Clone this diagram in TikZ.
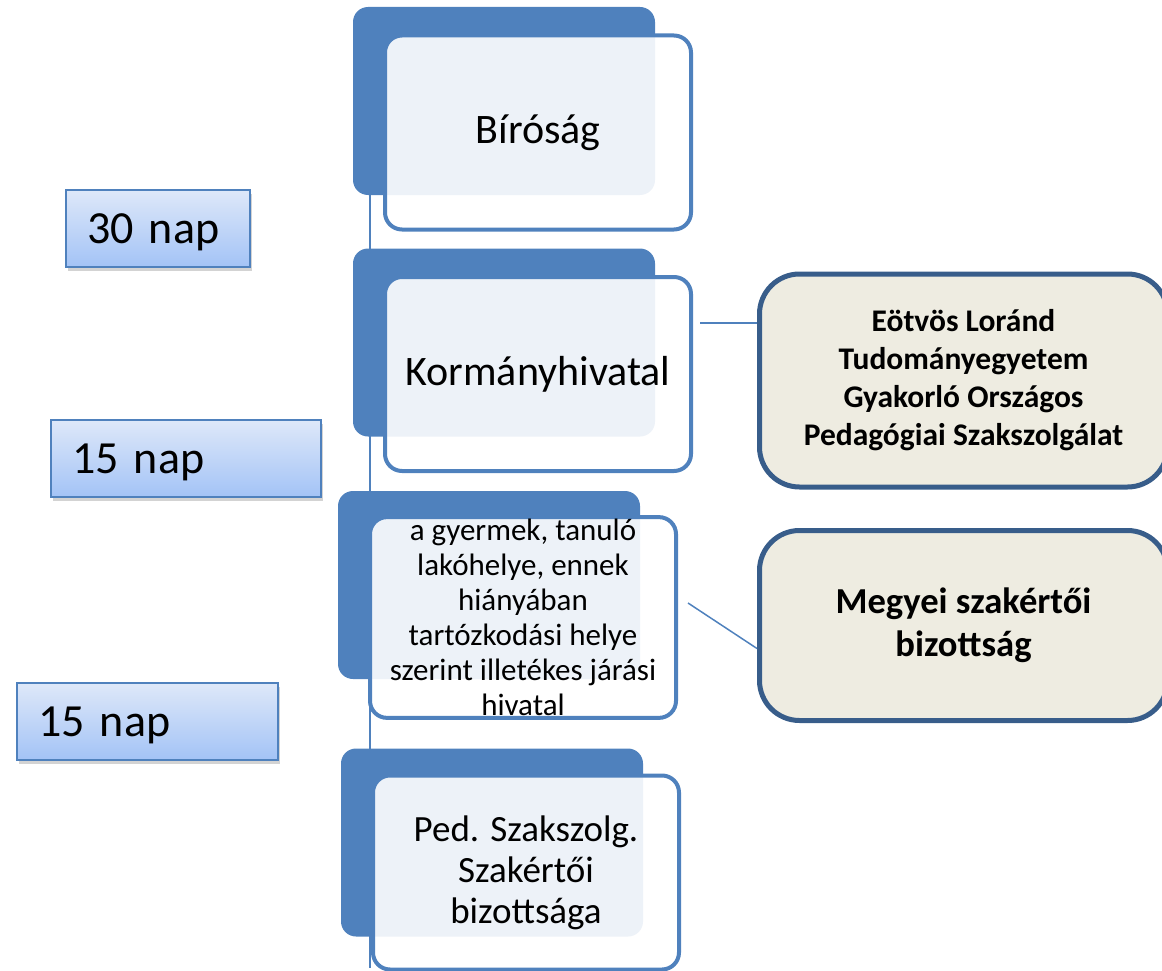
\documentclass[tikz,border=0pt]{standalone}
\usepackage{fontspec}
\setmainfont{Carlito}
\usetikzlibrary{shadows}
\definecolor{accent}{HTML}{4F81BD}
\definecolor{accentdark}{HTML}{385D8A}
\definecolor{paper}{HTML}{EEECE1}
\definecolor{periodtop}{HTML}{DEE8F9}
\definecolor{periodbot}{HTML}{A3C3F6}

\begin{document}
\begin{tikzpicture}[x=1pt, y=-1pt,
            back/.style={rectangle, rounded corners=15pt, fill=accent, minimum width=302pt, minimum height=188pt, inner sep=0pt},
            front/.style={rectangle, rounded corners=17pt, draw=accent, line width=4pt, fill=white, fill opacity=0.9, text opacity=1, minimum width=306pt, minimum height=194pt, inner sep=2pt, align=center, font=\fontsize{42}{50}\selectfont},
            office/.style={rectangle, rounded corners=40pt, draw=accentdark, line width=5pt, fill=paper, minimum width=408pt, align=center},
            period/.style={rectangle, draw=accent, line width=1.5pt, top color=periodtop, bottom color=periodbot, minimum height=77pt, inner xsep=21pt, text width=#1, align=left, text height=32pt, text depth=2pt, font=\fontsize{46}{52}\selectfont, drop shadow={opacity=0.35, shadow xshift=2pt, shadow yshift=-4pt}},
            link/.style={draw=accent, line width=1.5pt}]

        \clip (0,0) rectangle (1162,971);

        \node[back] (birosagbg) at (504,101) {};
        \node[back] (kormanybg) at (504,342.5) {};
        \node[back] (jarasibg) at (489,585) {};
        \node[back] (pedszakbg) at (492,842.5) {};

        \coordinate (spinetop) at (370,22);
        \coordinate (spinebot) at (370,968);
        \draw[link] (spinetop) -- (spinebot);

        \node[front, xshift=34pt, yshift=-31.5pt] (birosag) at (birosagbg) {Bíróság};
        \node[front, xshift=34pt, yshift=-31.5pt] (kormany) at (kormanybg) {Kormányhivatal};
        \node[front, xshift=34pt, yshift=-32.5pt, font=\fontsize{31}{35}\selectfont] (jarasi) at (jarasibg)
            {a gyermek, tanuló\\lakóhelye, ennek\\hiányában\\tartózkodási helye\\szerint illetékes járási\\hivatal};
        \node[front, xshift=34pt, yshift=-30pt, font=\fontsize{37}{41}\selectfont] (pedszak) at (pedszakbg)
            {Ped. Szakszolg.\\Szakértői\\bizottsága};

        \node[office, right of=kormany, node distance=425.5pt, yshift=-6.5pt, minimum height=213pt,
            font=\bfseries\fontsize{31.5}{38}\selectfont] (elte)
            {Eötvös Loránd\\Tudományegyetem\\Gyakorló Országos\\Pedagógiai Szakszolgálat};
        \node[office, right of=jarasi, node distance=440.5pt, yshift=-8pt, minimum height=190pt,
            font=\bfseries\fontsize{36.6}{43}\selectfont] (megyei)
            {Megyei szakértői\\bizottság};

        \coordinate (kormanyend) at (700,323);
        \coordinate (jarasiend) at (688,603);
        \draw[link] (kormanyend) -- (elte.west |- kormanyend);
        \draw[link] (jarasiend) -- ([yshift=-23pt]megyei.west);

        \node[period=142pt] (nap30) at (158,228.5) {30 nap};
        \node[period=228pt] (nap15a) at (186,458.5) {15 nap};
        \node[period=219pt] (nap15b) at (147.5,721.5) {15 nap};
    \end{tikzpicture}
\end{document}
